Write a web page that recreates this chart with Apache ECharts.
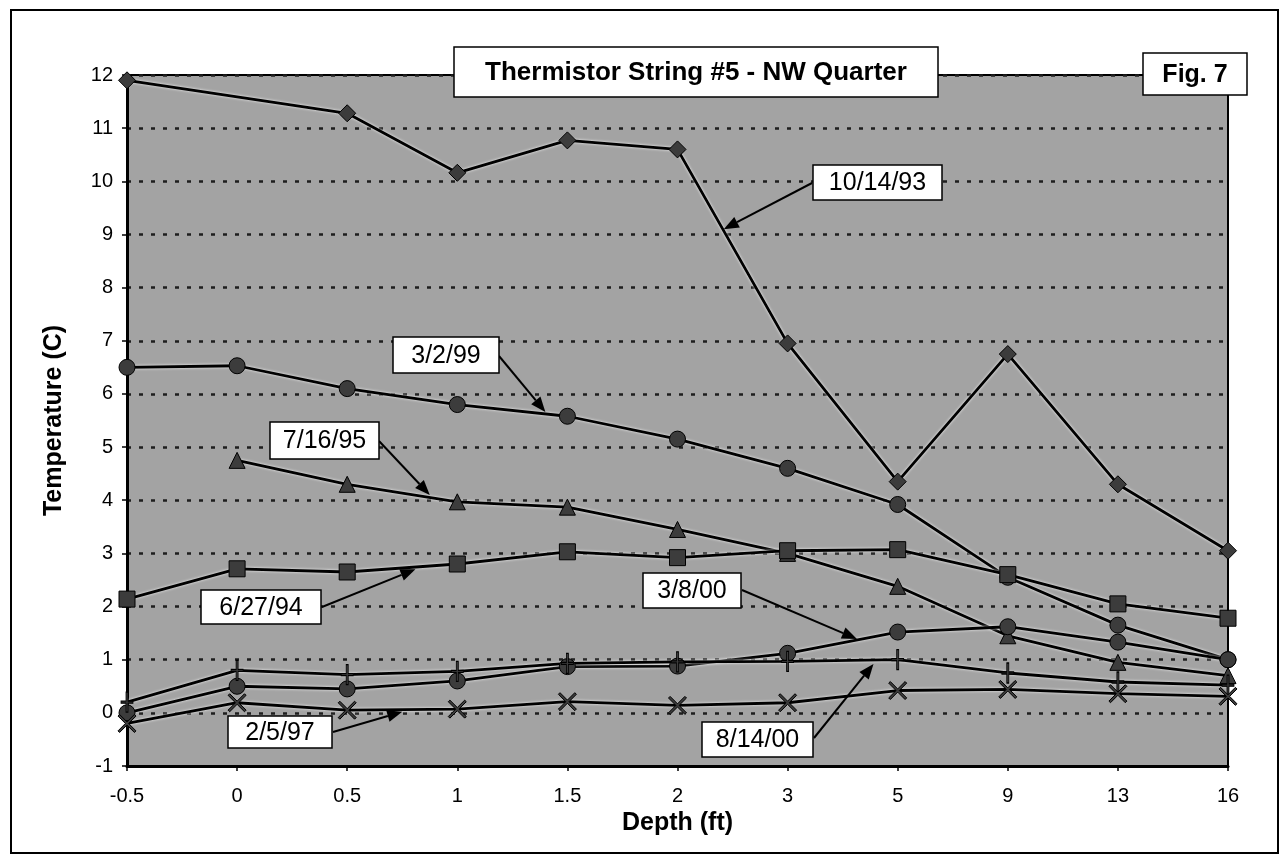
<!DOCTYPE html>
<html>
<head>
<meta charset="utf-8">
<script src="https://cdn.jsdelivr.net/npm/echarts@6/dist/echarts.min.js"></script>
<style>
html, body { margin: 0; padding: 0; background: #fff; }
#main { width: 1285px; height: 860px; }
</style>
</head>
<body>
<div id="main"></div>
<script>
// depth categories (ft)
const depths = ['-0.5', '0', '0.5', '1', '1.5', '2', '3', '5', '9', '13', '16'];

// temperature (C) per reading date
const t931014 = [11.9, null, 11.28, 10.16, 10.77, 10.6, 6.95, 4.35, 6.75, 4.3, 3.05];
const t990302 = [6.5, 6.53, 6.1, 5.8, 5.58, 5.15, 4.6, 3.92, 2.55, 1.65, 1.0];
const t950716 = [null, 4.75, 4.3, 3.97, 3.87, 3.45, 3.0, 2.38, 1.45, 0.95, 0.7];
const t940627 = [2.14, 2.71, 2.65, 2.8, 3.03, 2.92, 3.05, 3.07, 2.6, 2.05, 1.78];
const t000308 = [0.0, 0.5, 0.45, 0.6, 0.87, 0.88, 1.12, 1.52, 1.62, 1.33, 1.0];
const t000814 = [0.2, 0.8, 0.72, 0.78, 0.93, 0.96, 0.97, 1.0, 0.75, 0.58, 0.52];
const t970205 = [-0.2, 0.19, 0.05, 0.07, 0.21, 0.14, 0.19, 0.42, 0.44, 0.36, 0.31];

// callouts: label box (px) and arrow tip in data space [category position, value]
const notes = [
  { text: '10/14/93', box: [813, 165, 129, 35], from: [812, 183], tip: [5.42, 9.1] },
  { text: '3/2/99', box: [393, 337, 106, 36], from: [499, 356], tip: [3.8, 5.66] },
  { text: '7/16/95', box: [270, 422, 109, 37], from: [379, 441], tip: [2.75, 4.1] },
  { text: '6/27/94', box: [201, 590, 120, 34], from: [322, 607], tip: [2.62, 2.7] },
  { text: '2/5/97', box: [228, 716, 104, 32], from: [333, 732], tip: [2.5, 0.02] },
  { text: '3/8/00', box: [643, 573, 98, 35], from: [742, 590], tip: [6.63, 1.39] },
  { text: '8/14/00', box: [702, 722, 111, 35], from: [814, 738], tip: [6.78, 0.92] }
];

const FONT = '"Liberation Sans", Arial, sans-serif';
const plusPath = 'path://M-1,-10 L1,-10 L1,-1 L6,-1 L6,1 L1,1 L1,10 L-1,10 L-1,1 L-6,1 L-6,-1 L-1,-1 Z';
const crossPath = 'path://M0,1.6 L1.6,0 L9,7.4 L16.4,0 L18,1.6 L10.6,9 L18,16.4 L16.4,18 L9,10.6 L1.6,18 L0,16.4 L7.4,9 Z';

function line(name, data, symbol, size) {
  return {
    name: name,
    type: 'line',
    data: data,
    connectNulls: true,
    symbol: symbol,
    symbolSize: size,
    showAllSymbol: true,
    lineStyle: { color: '#000', width: 2.8, shadowColor: 'rgba(255,255,255,0.9)', shadowBlur: 3 },
    itemStyle: { color: '#3c3c3c', borderColor: '#000', borderWidth: 1 },
    emphasis: { disabled: true },
    z: 3
  };
}

const chart = echarts.init(document.getElementById('main'));
const option = {
  animation: false,
  textStyle: { fontFamily: FONT },
  grid: {
    left: 127, right: 57, top: 75, bottom: 94,
    show: true,
    backgroundColor: '#a3a3a3',
    borderColor: '#000',
    borderWidth: 2
  },
  xAxis: {
    type: 'category',
    data: depths,
    boundaryGap: false,
    name: 'Depth (ft)',
    nameLocation: 'middle',
    nameGap: 45,
    nameTextStyle: { fontSize: 25, fontWeight: 'bold', color: '#000', fontFamily: FONT },
    axisLine: { onZero: false, lineStyle: { color: '#000', width: 3 } },
    axisTick: { length: 5, lineStyle: { color: '#000', width: 1.5 } },
    axisLabel: { fontSize: 20, color: '#000', margin: 20, fontFamily: FONT },
    splitLine: { show: false }
  },
  yAxis: {
    type: 'value',
    min: -1,
    max: 12,
    interval: 1,
    name: 'Temperature (C)',
    nameLocation: 'middle',
    nameGap: 60,
    nameRotate: 90,
    nameTextStyle: { fontSize: 25, fontWeight: 'bold', color: '#000', fontFamily: FONT },
    axisLine: { show: true, onZero: false, lineStyle: { color: '#000', width: 3 } },
    axisTick: { show: true, length: 5, lineStyle: { color: '#000', width: 1.5 } },
    axisLabel: { fontSize: 20, color: '#000', margin: 14, fontFamily: FONT },
    splitLine: { show: true, lineStyle: { color: '#1e1e1e', width: 2.5, type: [4, 8] } }
  },
  series: [
    line('10/14/93', t931014, 'diamond', 17),
    line('3/2/99', t990302, 'circle', 16),
    line('7/16/95', t950716, 'triangle', 16),
    line('6/27/94', t940627, 'rect', 16),
    line('3/8/00', t000308, 'circle', 16),
    line('8/14/00', t000814, plusPath, [12, 20]),
    line('2/5/97', t970205, crossPath, 18)
  ]
};
chart.setOption(option);

// pixel of a position between two categories
function toPixel(p) {
  const i0 = Math.floor(p[0]), i1 = Math.ceil(p[0]), f = p[0] - i0;
  const a = chart.convertToPixel({ gridIndex: 0 }, [i0, p[1]]);
  const b = chart.convertToPixel({ gridIndex: 0 }, [i1, p[1]]);
  return [a[0] + (b[0] - a[0]) * f, a[1]];
}

// frame, title boxes and callouts
const g = [];
g.push({ type: 'rect', z: 0, shape: { x: 11, y: 10, width: 1267, height: 843 },
  style: { fill: 'none', stroke: '#000', lineWidth: 2 } });

function box(x, y, w, h, text, font) {
  g.push({ type: 'rect', z: 100, shape: { x: x, y: y, width: w, height: h },
    style: { fill: '#fff', stroke: '#000', lineWidth: 1.5 } });
  g.push({ type: 'text', z: 101, x: x + w / 2, y: y + h / 2 + 1,
    style: { text: text, font: font, fill: '#000', align: 'center', verticalAlign: 'middle' } });
}

box(454, 47, 484, 50, 'Thermistor String #5 - NW Quarter', 'bold 26px ' + FONT);
box(1143, 53, 104, 42, 'Fig. 7', 'bold 25px ' + FONT);

notes.forEach(function (n) {
  box(n.box[0], n.box[1], n.box[2], n.box[3], n.text, '25px ' + FONT);
  const t = toPixel(n.tip);
  const s = n.from;
  const dx = t[0] - s[0], dy = t[1] - s[1];
  const len = Math.sqrt(dx * dx + dy * dy);
  const ux = dx / len, uy = dy / len;
  const L = 15, W = 6;
  const bx = t[0] - ux * L, by = t[1] - uy * L;
  g.push({ type: 'line', z: 99, shape: { x1: s[0], y1: s[1], x2: bx, y2: by },
    style: { stroke: '#000', lineWidth: 2 } });
  g.push({ type: 'polygon', z: 99,
    shape: { points: [[t[0], t[1]], [bx - uy * W, by + ux * W], [bx + uy * W, by - ux * W]] },
    style: { fill: '#000' } });
});

chart.setOption({ graphic: g });
</script>
</body>
</html>
